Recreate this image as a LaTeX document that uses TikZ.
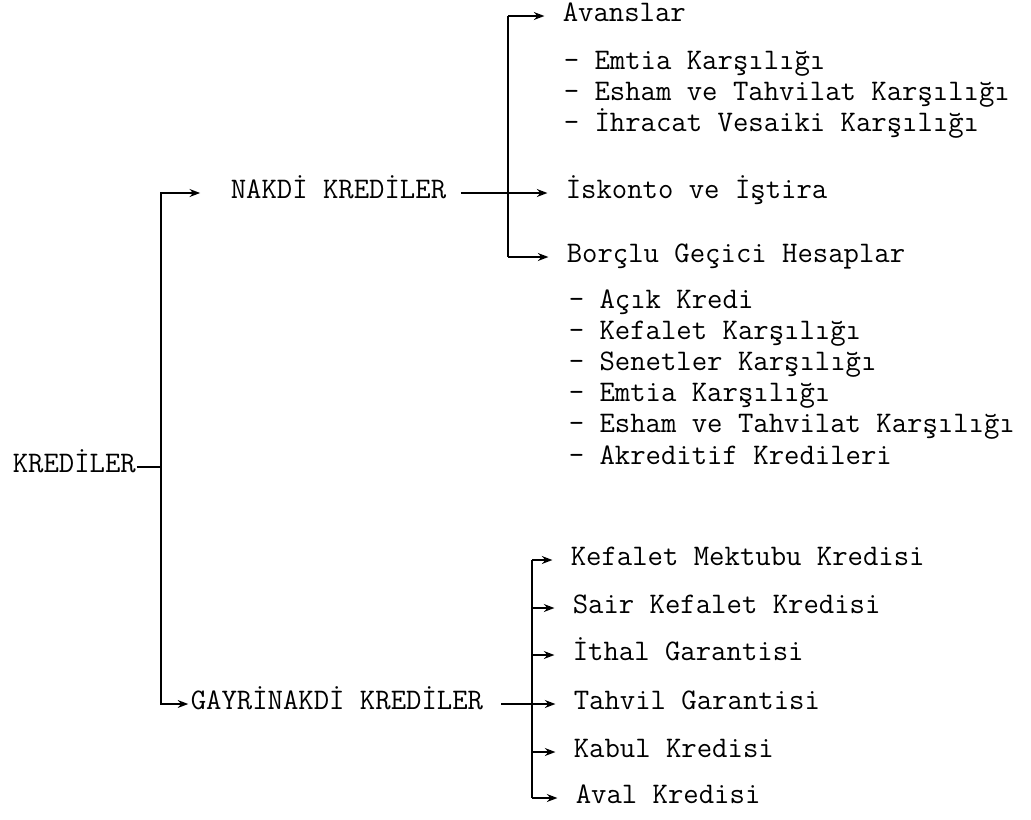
\documentclass[tikz,border=0pt]{standalone}
\usepackage{fontspec}
\usetikzlibrary{arrows.meta}

\begin{document}
\begin{tikzpicture}[x=0.02cm, y=-0.02cm,
  font=\ttfamily\fontsize{17}{20}\selectfont,
  line width=0.9pt,
  txt/.style={anchor=west, inner sep=0pt, text height=0.75em, text depth=0.15em},
  arr/.style={-{Stealth[length=6pt,width=4.5pt]}, shorten >=10pt}]
\useasboundingbox (0,0) rectangle (1031,819);

\node[txt] (kred) at (12,467) {KREDİLER};
\node[txt] (nakdi) at (230,193) {NAKDİ KREDİLER};
\node[txt] (gayri) at (190,704) {GAYRİNAKDİ KREDİLER};

% nakdi krediler
\node[txt] (avans) at (562,16) {Avanslar};
\node[txt] (av1) at (563,64) {- Emtia Karşılığı};
\node[txt] (av2) at (563,95) {- Esham ve Tahvilat Karşılığı};
\node[txt] (av3) at (563,126) {- İhracat Vesaiki Karşılığı};
\node[txt] (isk) at (565,193) {İskonto ve İştira};
\node[txt] (borc) at (566,257) {Borçlu Geçici Hesaplar};
\node[txt] (bg1) at (568,303) {- Açık Kredi};
\node[txt] (bg2) at (568,334) {- Kefalet Karşılığı};
\node[txt] (bg3) at (568,365) {- Senetler Karşılığı};
\node[txt] (bg4) at (568,396) {- Emtia Karşılığı};
\node[txt] (bg5) at (568,427) {- Esham ve Tahvilat Karşılığı};
\node[txt] (bg6) at (568,459) {- Akreditif Kredileri};

% gayrinakdi krediler
\node[txt] (kmk) at (570,560) {Kefalet Mektubu Kredisi};
\node[txt] (skk) at (572,608) {Sair Kefalet Kredisi};
\node[txt] (ith) at (572,655) {İthal Garantisi};
\node[txt] (tah) at (573,704) {Tahvil Garantisi};
\node[txt] (kab) at (573,752) {Kabul Kredisi};
\node[txt] (ava) at (575,798) {Aval Kredisi};

% main trunk
\coordinate (tk) at (161,467);
\draw (kred) -- (tk);
\draw[arr, shorten >=17pt] (tk) |- (nakdi);
\draw[arr, shorten >=1pt] (tk) |- (gayri);

% nakdi bracket
\coordinate (nb) at (508,193);
\draw (nb |- avans.west) -- (nb |- borc.west);
\draw[arr] (nb |- avans.west) -- (avans);
\draw[arr] (nb |- borc.west) -- (borc);
\draw[arr, shorten <=8pt] (nakdi) -- (isk);

% gayrinakdi bracket
\coordinate (gb) at (532,704);
\draw (gb |- kmk.west) -- (gb |- ava.west);
\draw[arr] (gb |- kmk.west) -- (kmk);
\draw[arr] (gb |- skk.west) -- (skk);
\draw[arr] (gb |- ith.west) -- (ith);
\draw[arr] (gb |- kab.west) -- (kab);
\draw[arr] (gb |- ava.west) -- (ava);
\draw[arr, shorten <=10pt] (gayri) -- (tah);
\end{tikzpicture}
\end{document}
